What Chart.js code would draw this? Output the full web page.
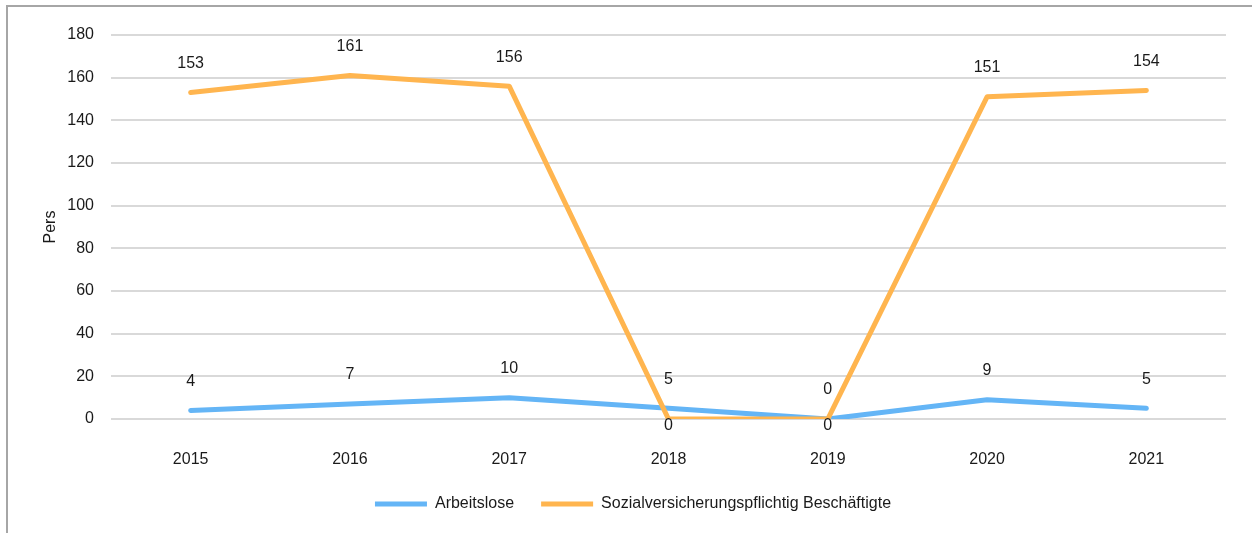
<!DOCTYPE html>
<html>
<head>
<meta charset="utf-8">
<script src="https://cdn.jsdelivr.net/npm/chart.js@4/dist/chart.umd.min.js"></script>
<style>
  html, body { margin: 0; padding: 0; background: #fff; overflow: hidden; }
  #wrap { position: absolute; left: 0; top: 0; width: 1252px; height: 533px; }
  #frame { position: absolute; left: 6px; top: 5px; width: 1400px; height: 700px;
           border: 2px solid #a6a6a6; box-sizing: border-box; pointer-events: none; }
</style>
</head>
<body>
<div id="wrap"><canvas id="chart" width="1252" height="533"></canvas></div>
<div id="frame"></div>
<script>
// Werte
var years = ["2015", "2016", "2017", "2018", "2019", "2020", "2021"];
var arbeitslose = [4, 7, 10, 5, 0, 9, 5];
var beschaeftigte = [153, 161, 156, 0, 0, 151, 154];
var yTicks = [0, 20, 40, 60, 80, 100, 120, 140, 160, 180];

var FONT = "'Liberation Sans Narrow', 'Arial Narrow', 'Liberation Sans', Arial, sans-serif";
Chart.defaults.font.family = FONT;
Chart.defaults.font.size = 16;
Chart.defaults.color = '#1a1a1a';

// Datenbeschriftungen ueber (bzw. bei 0 unter) den Punkten
var valueLabels = {
    id: 'valueLabels',
    afterDatasetsDraw: function(chart) {
        var ctx = chart.ctx;
        ctx.save();
        ctx.font = '16px ' + FONT;
        ctx.fillStyle = '#1a1a1a';
        ctx.textAlign = 'center';
        ctx.textBaseline = 'middle';
        chart.data.datasets.forEach(function(ds, i) {
            chart.getDatasetMeta(i).data.forEach(function(pt, j) {
                var v = ds.data[j];
                var dy = (ds.zeroBelow && v === 0) ? 7 : -29;
                ctx.fillText(String(v), pt.x, pt.y + dy);
            });
        });
        ctx.restore();
    }
};

new Chart(document.getElementById('chart'), {
    type: 'line',
    data: {
        labels: years,
        datasets: [{
            label: 'Arbeitslose',
            data: arbeitslose,
            borderColor: '#64b5f6',
            backgroundColor: '#64b5f6',
            borderWidth: 5,
            borderCapStyle: 'round',
            order: 2,
            zeroBelow: false
        }, {
            label: 'Sozialversicherungspflichtig Beschäftigte',
            data: beschaeftigte,
            borderColor: '#ffb54f',
            backgroundColor: '#ffb54f',
            borderWidth: 5,
            borderCapStyle: 'round',
            order: 1,
            zeroBelow: true
        }]
    },
    options: {
        responsive: false,
        animation: false,
        devicePixelRatio: 1,
        layout: { padding: { top: 35, left: 40, right: 26, bottom: 11 } },
        elements: {
            line: { borderWidth: 5, tension: 0, borderCapStyle: 'round', borderJoinStyle: 'round' },
            point: { radius: 0, hoverRadius: 0 }
        },
        plugins: {
            tooltip: { enabled: false },
            legend: {
                position: 'bottom',
                labels: {
                    usePointStyle: true,
                    pointStyle: 'line',
                    pointStyleWidth: 52,
                    boxHeight: 5,
                    padding: 27,
                    font: { size: 16 },
                    color: '#1a1a1a',
                    sort: function(a, b) { return a.datasetIndex - b.datasetIndex; }
                }
            }
        },
        scales: {
            x: {
                offset: true,
                grid: { display: false, drawTicks: false },
                border: { display: false },
                ticks: { padding: 31, maxRotation: 0, font: { size: 16 } },
                afterFit: function(s) { s.height = 50; }
            },
            y: {
                min: 0,
                max: 180,
                afterBuildTicks: function(s) { s.ticks = yTicks.map(function(v) { return { value: v }; }); },
                grid: { color: '#d9d9d9', lineWidth: 2, drawTicks: false },
                border: { display: false },
                ticks: { padding: 17, font: { size: 16 } },
                title: { display: true, text: 'Pers', padding: { top: 0.5, bottom: 0 }, font: { size: 16 } },
                afterFit: function(s) { s.width = 71; }
            }
        }
    },
    plugins: [valueLabels]
});
</script>
</body>
</html>
